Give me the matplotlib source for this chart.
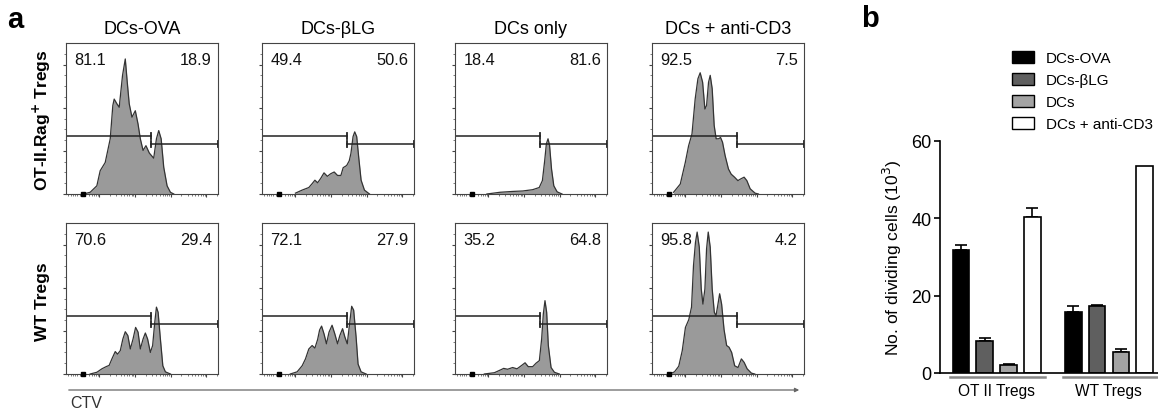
import numpy as np
import matplotlib
matplotlib.use("Agg")
import matplotlib.pyplot as plt
from matplotlib.patches import Patch

plt.rcParams['font.family'] = ['Liberation Sans', 'DejaVu Sans']

# ---- panel a: CTV histograms (x = fraction of axis, y = tick units) ----
col_titles = ['DCs-OVA', 'DCs-\u03b2LG', 'DCs only', 'DCs + anti-CD3']
row_labels = ['OT-II.Rag$^{\\mathbf{+}}$ Tregs', 'WT Tregs']

ot_left = [81.1, 49.4, 18.4, 92.5]
ot_right = [18.9, 50.6, 81.6, 7.5]
wt_left = [70.6, 72.1, 35.2, 95.8]
wt_right = [29.4, 27.9, 64.8, 4.2]
gate_x = [0.56, 0.56, 0.56, 0.56]

ot_ova_x = [0.115, 0.159, 0.203, 0.225, 0.258, 0.291, 0.308, 0.317, 0.335, 0.350, 0.372, 0.390,
            0.403, 0.416, 0.434, 0.456, 0.474, 0.489, 0.507, 0.526, 0.548, 0.577, 0.595, 0.610,
            0.626, 0.643, 0.665, 0.687, 0.709]
ot_ova_y = [0.0, 0.04, 0.19, 0.54, 0.73, 1.28, 2.05, 2.20, 2.09, 2.01, 2.75, 3.13,
            2.59, 2.09, 1.78, 1.93, 1.62, 1.28, 1.01, 1.12, 0.95, 0.83, 1.28, 1.47,
            1.28, 0.62, 0.19, 0.04, 0.0]

ot_blg_x = [0.220, 0.264, 0.308, 0.330, 0.348, 0.366, 0.386, 0.408, 0.430, 0.452, 0.475, 0.497,
            0.519, 0.534, 0.557, 0.574, 0.585, 0.599, 0.610, 0.623, 0.636, 0.652, 0.674, 0.707]
ot_blg_y = [0.02, 0.09, 0.15, 0.24, 0.32, 0.26, 0.36, 0.49, 0.41, 0.47, 0.51, 0.43,
            0.43, 0.61, 0.66, 0.77, 0.94, 1.33, 1.44, 1.33, 0.86, 0.32, 0.09, 0.0]

ot_dc_x = [0.210, 0.296, 0.382, 0.446, 0.511, 0.554, 0.575, 0.590, 0.601, 0.612, 0.622, 0.635,
           0.650, 0.672, 0.704]
ot_dc_y = [0.0, 0.04, 0.06, 0.07, 0.10, 0.15, 0.31, 0.77, 1.16, 1.28, 1.13, 0.58,
           0.19, 0.05, 0.0]

ot_cd3_x = [0.142, 0.186, 0.219, 0.241, 0.263, 0.284, 0.302, 0.317, 0.333, 0.348, 0.359, 0.372,
            0.383, 0.396, 0.409, 0.422, 0.438, 0.451, 0.464, 0.481, 0.503, 0.521, 0.543, 0.565,
            0.584, 0.606, 0.624, 0.646, 0.678, 0.700]
ot_cd3_y = [0.04, 0.23, 0.73, 1.12, 1.39, 2.20, 2.67, 2.81, 2.59, 1.97, 2.05, 2.59,
            2.75, 2.44, 1.59, 1.28, 1.28, 1.31, 1.20, 0.89, 0.58, 0.46, 0.39, 0.31,
            0.35, 0.39, 0.31, 0.12, 0.02, 0.0]

wt_ova_x = [0.159, 0.203, 0.236, 0.264, 0.284, 0.302, 0.324, 0.339, 0.357, 0.374, 0.390, 0.407,
            0.423, 0.441, 0.458, 0.474, 0.489, 0.507, 0.522, 0.537, 0.555, 0.570, 0.584, 0.595,
            0.606, 0.621, 0.637, 0.654, 0.687]
wt_ova_y = [0.0, 0.04, 0.12, 0.17, 0.20, 0.35, 0.52, 0.46, 0.54, 0.81, 0.98, 0.89,
            0.58, 0.81, 1.08, 0.97, 0.58, 0.81, 0.95, 0.81, 0.50, 0.66, 1.20, 1.55,
            1.43, 0.81, 0.19, 0.05, 0.0]

wt_blg_x = [0.186, 0.231, 0.264, 0.286, 0.308, 0.330, 0.348, 0.366, 0.379, 0.392, 0.408, 0.424,
            0.441, 0.461, 0.479, 0.497, 0.512, 0.530, 0.545, 0.561, 0.576, 0.590, 0.603, 0.619,
            0.632, 0.652, 0.685]
wt_blg_y = [0.0, 0.05, 0.19, 0.35, 0.58, 0.66, 0.60, 0.80, 1.02, 1.11, 0.93, 0.70,
            0.97, 1.13, 0.93, 0.70, 0.89, 1.05, 0.86, 0.70, 1.16, 1.57, 1.48, 0.86,
            0.23, 0.05, 0.0]

wt_dc_x = [0.193, 0.259, 0.303, 0.320, 0.346, 0.379, 0.408, 0.439, 0.461, 0.482, 0.511, 0.533,
           0.555, 0.570, 0.581, 0.592, 0.603, 0.614, 0.632, 0.654, 0.686]
wt_dc_y = [0.0, 0.03, 0.10, 0.13, 0.11, 0.15, 0.12, 0.20, 0.26, 0.17, 0.17, 0.25,
           0.31, 0.81, 1.39, 1.70, 1.43, 0.66, 0.15, 0.04, 0.0]

wt_cd3_x = [0.115, 0.148, 0.176, 0.199, 0.220, 0.242, 0.260, 0.273, 0.286, 0.297, 0.311, 0.324,
            0.335, 0.348, 0.359, 0.370, 0.383, 0.396, 0.410, 0.421, 0.434, 0.445, 0.458, 0.474,
            0.491, 0.507, 0.524, 0.544, 0.566, 0.588, 0.606, 0.626, 0.654, 0.676]
wt_cd3_y = [0.0, 0.05, 0.18, 0.54, 1.08, 1.26, 1.55, 2.51, 3.05, 3.29, 2.94, 1.97,
            1.62, 1.97, 2.90, 3.29, 2.94, 1.97, 1.43, 1.35, 1.62, 1.86, 1.62, 1.03,
            0.66, 0.62, 0.50, 0.19, 0.15, 0.35, 0.27, 0.12, 0.02, 0.0]

hist_x = [[ot_ova_x, ot_blg_x, ot_dc_x, ot_cd3_x], [wt_ova_x, wt_blg_x, wt_dc_x, wt_cd3_x]]
hist_y = [[ot_ova_y, ot_blg_y, ot_dc_y, ot_cd3_y], [wt_ova_y, wt_blg_y, wt_dc_y, wt_cd3_y]]
left_pct = [ot_left, wt_left]
right_pct = [ot_right, wt_right]

# ---- panel b: bar chart ----
bar_groups = ['OT II Tregs', 'WT Tregs']
bar_series = ['DCs-OVA', 'DCs-\u03b2LG', 'DCs', 'DCs + anti-CD3']
bar_colors = ['#000000', '#5f5f5f', '#a3a3a3', '#ffffff']
ot_means = [31.9, 8.4, 2.1, 40.3]
ot_err = [1.2, 0.6, 0.2, 2.3]
wt_means = [15.9, 17.4, 5.5, 53.6]
wt_err = [1.3, 0.3, 0.7, 0.0]

W, H = 1158, 414
fig = plt.figure(figsize=(W / 100, H / 100), dpi=100)

col_left = [66, 262, 455, 652]
row_bottom = [195, 375]
pw, ph = 152, 151

major = [0.22 + 0.234 * i for i in range(4)]
minor = [0.015, 0.03, 0.045, 0.06, 0.075, 0.09]
for d in range(-1, 4):
    for k in range(2, 10):
        p = 0.22 + 0.234 * (d + np.log10(k))
        if 0.12 < p < 1.0:
            minor.append(p)

for r in range(2):
    for c in range(4):
        ax = fig.add_axes([col_left[c] / W, 1 - row_bottom[r] / H, pw / W, ph / H])
        xs, ys = hist_x[r][c], hist_y[r][c]
        ax.fill_between(xs, ys, 0, color='#9a9a9a', lw=0)
        ax.plot(xs, ys, color='#333333', lw=0.9)
        g = gate_x[c]
        ax.plot([0, g], [1.35, 1.35], color='#222222', lw=1.1)
        ax.plot([g, 1.0], [1.16, 1.16], color='#222222', lw=1.1)
        for gx, gy in [(g, 1.35), (g, 1.16), (1.0, 1.16)]:
            ax.plot([gx, gx], [gy - 0.07, gy + 0.07], color='#222222', lw=1.3, clip_on=False)
        ax.plot([0.11], [0], marker='s', ms=3, color='black', clip_on=False, zorder=5)
        ax.text(0.055, 0.89, f'{left_pct[r][c]:.1f}', transform=ax.transAxes,
                fontsize=11.8, ha='left', va='center', color='#111111')
        ax.text(0.96, 0.89, f'{right_pct[r][c]:.1f}', transform=ax.transAxes,
                fontsize=11.8, ha='right', va='center', color='#111111')
        ax.set_xlim(0, 1)
        ax.set_ylim(0, 3.5)
        ax.set_xticks(major)
        ax.set_xticks(minor, minor=True)
        ax.set_yticks([0, 1, 2, 3])
        ax.set_yticks([0.25, 0.5, 0.75, 1.25, 1.5, 1.75, 2.25, 2.5, 2.75, 3.25], minor=True)
        ax.tick_params(which='major', direction='out', length=2.5, width=0.8,
                       color='#444444', labelbottom=False, labelleft=False)
        ax.tick_params(which='minor', direction='out', length=1.5, width=0.6, color='#666666')
        for s in ax.spines.values():
            s.set_linewidth(0.8)
            s.set_color('#444444')
        if r == 0:
            ax.set_title(col_titles[c], fontsize=13, pad=7)

fig.text(42 / W, 1 - 120 / H, row_labels[0], rotation=90, ha='center', va='center',
         fontsize=12.5, fontweight='bold')
fig.text(42 / W, 1 - 302 / H, row_labels[1], rotation=90, ha='center', va='center',
         fontsize=12.5, fontweight='bold')
fig.text(7 / W, 1 - 20 / H, 'a', fontsize=21, fontweight='bold', ha='left', va='center')
fig.text(861 / W, 1 - 19 / H, 'b', fontsize=21, fontweight='bold', ha='left', va='center')

fig.add_artist(matplotlib.patches.FancyArrowPatch(
    (66 / W, 1 - 391 / H), (802 / W, 1 - 391 / H), transform=fig.transFigure,
    arrowstyle='-|>', mutation_scale=6, color='#666666', lw=0.9))
fig.text(70 / W, 1 - 404 / H, 'CTV', fontsize=11.5, ha='left', va='center', color='#333333')

# bar chart
bx = fig.add_axes([940 / W, 1 - 374 / H, (W - 940) / W, (374 - 142) / H])
ot_pos = np.arange(4)
wt_pos = np.arange(4) + 4.72
for i in range(4):
    for pos, m, e in [(ot_pos[i], ot_means[i], ot_err[i]), (wt_pos[i], wt_means[i], wt_err[i])]:
        bx.bar(pos, m, width=0.7, color=bar_colors[i], edgecolor='black', lw=1.2, zorder=2)
        if e > 0:
            bx.errorbar(pos, m, yerr=[[0], [e]], color='black', lw=1.2, capsize=4,
                        capthick=1.2, zorder=1)
bx.set_xlim(-0.88, 8.28)
bx.set_ylim(0, 60)
bx.set_yticks([0, 20, 40, 60])
bx.set_xticks([1.5, 6.2])
bx.set_xticklabels(bar_groups, fontsize=11.2)
bx.tick_params(axis='x', length=0, pad=7)
bx.tick_params(axis='y', direction='out', length=4, width=1.2, labelsize=13, pad=2)
bx.spines['top'].set_visible(False)
bx.spines['right'].set_visible(False)
for s in ['left', 'bottom']:
    bx.spines[s].set_linewidth(1.2)
bx.set_ylabel('No. of dividing cells (10$^3$)', fontsize=12.6, labelpad=5)
for a, b in [(-0.46, 3.53), (4.29, 8.28)]:
    bx.plot([a, b], [-1.1, -1.1], color='#888888', lw=1.8, clip_on=False)

handles = [Patch(facecolor=bar_colors[i], edgecolor='black', lw=1.0) for i in range(4)]
fig.legend(handles, bar_series, loc='upper left', bbox_to_anchor=(1012 / W, 1 - 52 / H),
           frameon=False, fontsize=11, handlelength=1.45, handleheight=0.85,
           labelspacing=0.5, handletextpad=0.75, borderpad=0, borderaxespad=0)

fig.savefig('out.png', dpi=100)
